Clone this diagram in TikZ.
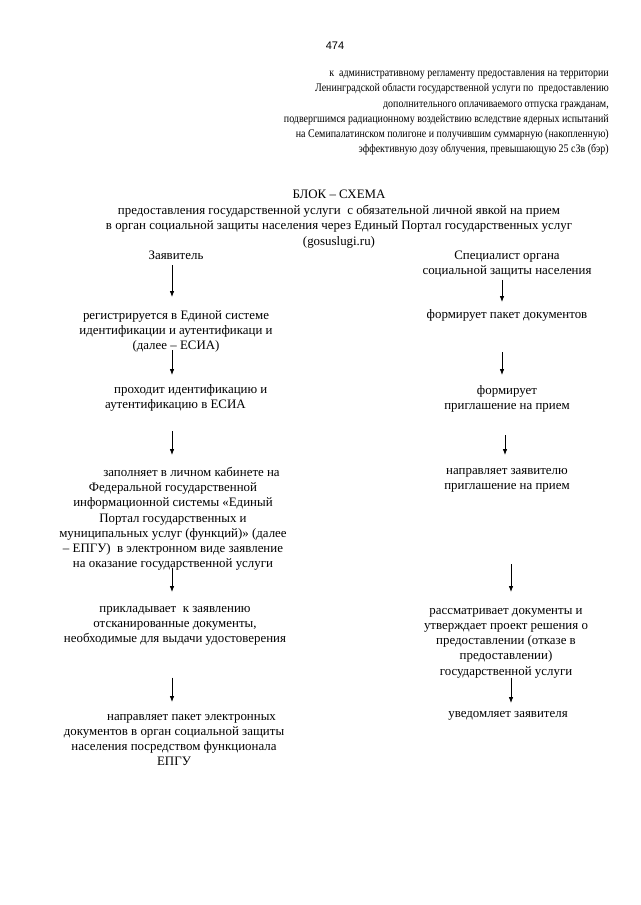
\documentclass[tikz,border=0pt]{standalone}
\usepackage{fontspec}
\setmainfont{Liberation Serif}
\newfontfamily\pagenumfont{Liberation Sans}
\newfontfamily\hdrfont[FakeStretch=0.86]{Liberation Serif}
\usetikzlibrary{arrows.meta}
\begin{document}
\begin{tikzpicture}[x=1pt,y=-1pt,
  txt/.style={inner sep=0pt, align=center, font=\fontsize{12.9}{15.2}\selectfont},
  arr/.style={draw=black, line width=0.8pt, -{Latex[length=6pt,width=4.6pt]}}]
\useasboundingbox (0,0) rectangle (640,905);
\fill[white] (0,0) rectangle (640,905);
\coordinate (colL) at (172,0);
\coordinate (colR) at (502,0);
\coordinate (colR2) at (505,0);
\coordinate (colR3) at (511,0);

\node[inner sep=0pt, font=\pagenumfont\fontsize{11}{13}\selectfont] (pnum) at (335,46) {474};

\node[inner sep=0pt, anchor=north east, align=right, font=\hdrfont\fontsize{11.6}{15.2}\selectfont] (hdr) at (609,71)
{к\ \ административному регламенту предоставления на территории\\
Ленинградской области государственной услуги по\ \ предоставлению\\
дополнительного оплачиваемого отпуска гражданам,\\
подвергшимся радиационному воздействию вследствие ядерных испытаний\\
на Семипалатинском полигоне и получившим суммарную (накопленную)\\
эффективную дозу облучения, превышающую 25 сЗв (бэр)};

\node[txt, anchor=north, font=\fontsize{12.9}{15.6}\selectfont] (title) at (339,190)
{БЛОК – СХЕМА\\
предоставления государственной услуги\ \ с обязательной личной явкой на прием\\
в орган социальной защиты населения через Единый Портал государственных услуг\\
(gosuslugi.ru)};

\node[txt, anchor=north] (zayav) at (176,251) {Заявитель};
\node[txt, anchor=north] (spec) at (507,251) {Специалист органа\\социальной защиты населения};

% left column
\node[txt, anchor=north] (reg) at (176,310) {регистрируется в Единой системе\\идентификации и аутентификаци и\\(далее – ЕСИА)};
\node[txt, anchor=north west, align=left] (prohod) at (105,384) {\hspace*{9pt}проходит идентификацию и\\аутентификацию в ЕСИА};
\node[txt, anchor=north] (zapoln) at (173,467) {\hspace*{37pt}заполняет в личном кабинете на\\Федеральной государственной\\информационной системы «Единый\\Портал государственных и\\муниципальных услуг (функций)» (далее\\– ЕПГУ)\ \ в электронном виде заявление\\на оказание государственной услуги};
\node[txt, anchor=north] (priklad) at (175,606) {прикладывает\ \ к заявлению\\отсканированные документы,\\необходимые для выдачи удостоверения};
\node[txt, anchor=north] (napr) at (174,714) {\hspace*{35pt}направляет пакет электронных\\документов в орган социальной защиты\\населения посредством функционала\\ЕПГУ};

% right column
\node[txt, anchor=north] (r1) at (507,309) {формирует пакет документов};
\node[txt, anchor=north] (r2) at (507,385) {формирует\\приглашение на прием};
\node[txt, anchor=north] (r3) at (507,468) {направляет заявителю\\приглашение на прием};
\node[txt, anchor=north] (r4) at (506,608) {рассматривает документы и\\утверждает проект решения о\\предоставлении (отказе в\\предоставлении)\\государственной услуги};
\node[txt, anchor=north] (r5) at (508,711) {уведомляет заявителя};

% arrows left
\draw[arr, shorten <=5pt, shorten >=13pt] (zayav.south -| colL) -- (reg.north -| colL);
\draw[arr, shorten <=-2pt, shorten >=9pt] (reg.south -| colL) -- (prohod.north -| colL);
\draw[arr, shorten <=20pt, shorten >=12pt] (prohod.south -| colL) -- (zapoln.north -| colL);
\draw[arr, shorten <=-3pt, shorten >=14pt] (zapoln.south -| colL) -- (priklad.north -| colL);
\draw[arr, shorten <=32pt, shorten >=12pt] (priklad.south -| colL) -- (napr.north -| colL);
% arrows right
\draw[arr, shorten <=2pt, shorten >=7pt] (spec.south -| colR) -- (r1.north -| colR);
\draw[arr, shorten <=31pt, shorten >=10pt] (r1.south -| colR) -- (r2.north -| colR);
\draw[arr, shorten <=23pt, shorten >=13pt] (r2.south -| colR2) -- (r3.north -| colR2);
\draw[arr, shorten <=72pt, shorten >=16pt] (r3.south -| colR3) -- (r4.north -| colR3);
\draw[arr, shorten <=0pt, shorten >=8pt] (r4.south -| colR3) -- (r5.north -| colR3);
\end{tikzpicture}
\end{document}
